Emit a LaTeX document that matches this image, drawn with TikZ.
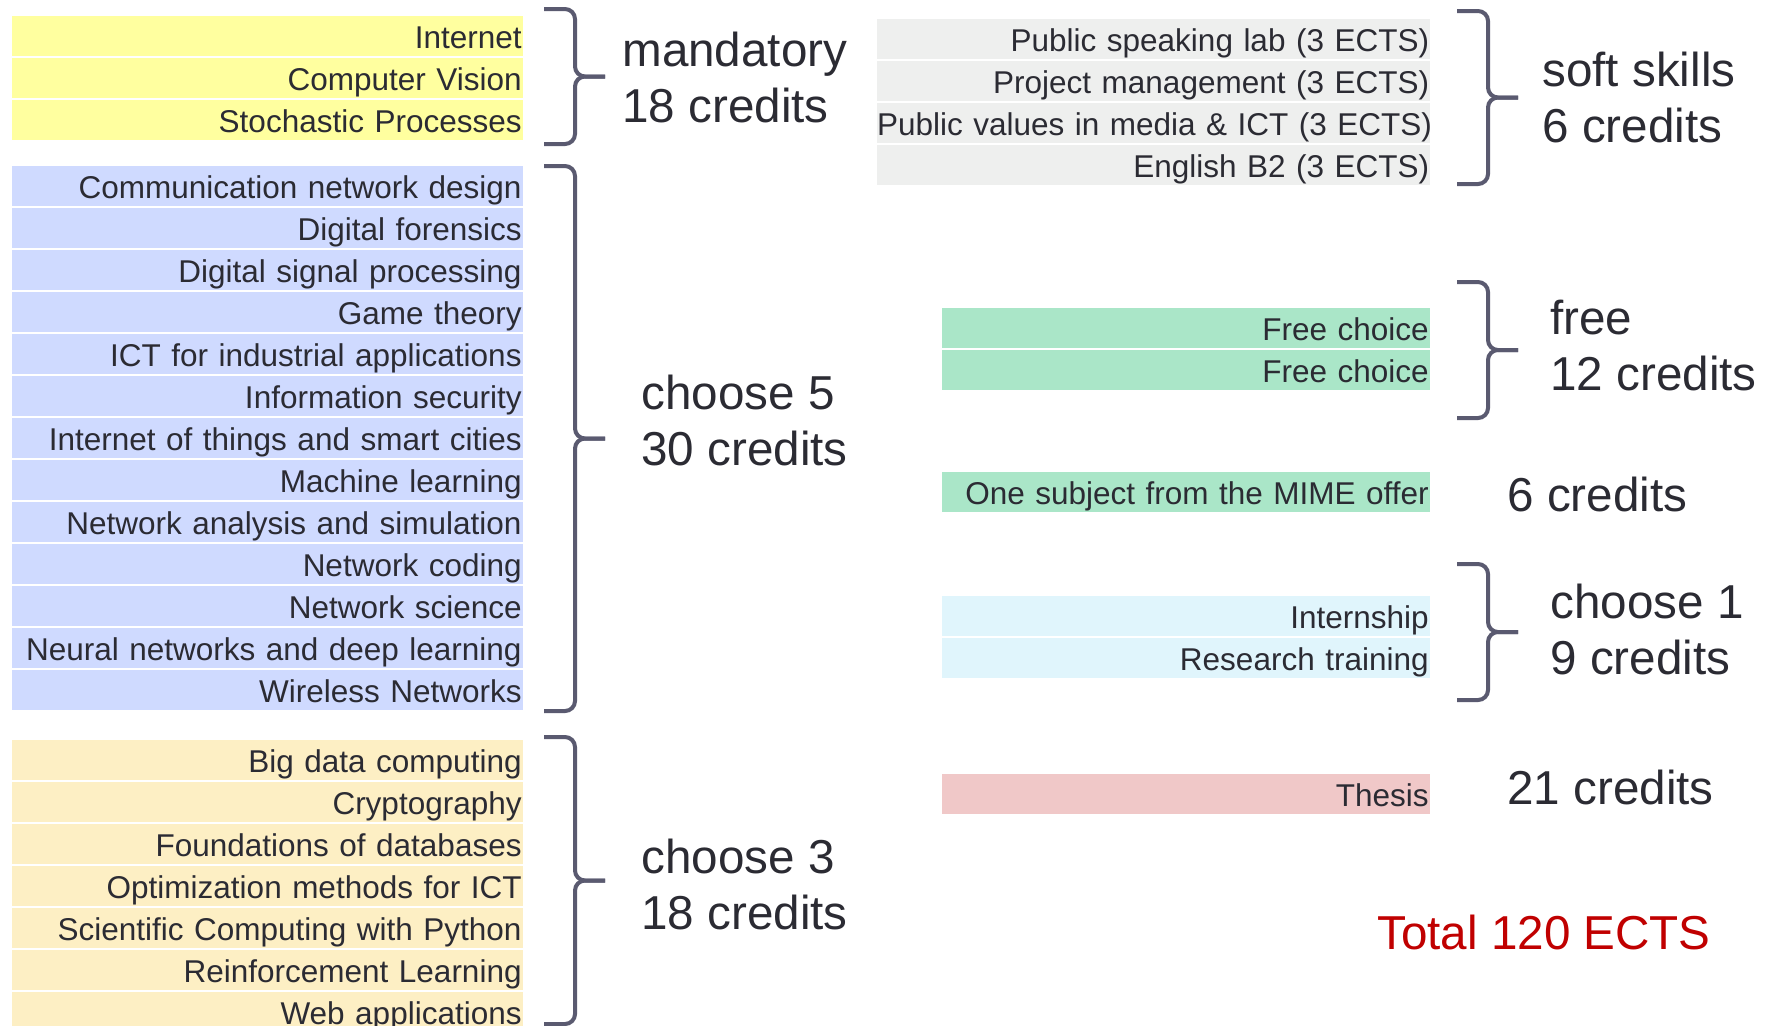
\documentclass[tikz,border=0pt]{standalone}
\usepackage{fontspec}
\setmainfont{Liberation Sans}
\usetikzlibrary{calc}

\definecolor{rowtext}{HTML}{2B2B33}
\definecolor{lbltext}{HTML}{2B2B33}
\definecolor{bracecol}{HTML}{5A5A70}
\definecolor{cyel}{HTML}{FFFF9F}
\definecolor{cblue}{HTML}{CFDAFF}
\definecolor{cora}{HTML}{FDEFC4}
\definecolor{cgray}{HTML}{EEEFEE}
\definecolor{cgreen}{HTML}{AAE6C8}
\definecolor{ccyan}{HTML}{E0F5FC}
\definecolor{cpink}{HTML}{F0C8C8}
\definecolor{totred}{HTML}{C00000}

\tikzset{
  course/.style={anchor=north east, minimum height=19.75pt, inner ysep=0pt,
    inner xsep=0.5pt, text width=#1, align=right, text=rowtext,
    text height=14pt, text depth=1.7pt,
    font=\fontsize{15.75}{19}\selectfont},
  course/.default=254.5pt,
  credit/.style={anchor=west, inner sep=0pt, align=left, text=lbltext,
    font=\fontsize{23.8}{28}\selectfont},
  bracestroke/.style={draw=bracecol, line width=2pt, rounded corners=5pt},
}

% group brace: #1 top, #2 bottom of the vertical stroke
\newcommand{\grpbrace}[2]{%
  \draw[bracestroke] ($(#1)+(-31,0)$) -- (#1) -- ($(#1)!0.5!(#2)$) -- ++(30,0);
  \draw[bracestroke] ($(#2)+(-31,0)$) -- (#2) -- ($(#1)!0.5!(#2)$) -- ++(30,0);
}

\begin{document}
\begin{tikzpicture}[x=0.5pt,y=-0.5pt]
\useasboundingbox (0,0) rectangle (1770,1025);
\clip (0,0) rectangle (1770,1025);

% left column: mandatory, electives
\foreach \t [count=\i] in {Internet,Computer Vision,Stochastic Processes}
  \node[course,fill=cyel] (man\i) at (523,{16+42*(\i-1)}) {\t};
\foreach \t [count=\i] in {Communication network design,Digital forensics,
    Digital signal processing,Game theory,ICT for industrial applications,
    Information security,Internet of things and smart cities,Machine learning,
    Network analysis and simulation,Network coding,Network science,
    Neural networks and deep learning,Wireless Networks}
  \node[course,fill=cblue] (elA\i) at (523,{166+42*(\i-1)}) {\t};
\foreach \t [count=\i] in {Big data computing,Cryptography,Foundations of databases,
    Optimization methods for ICT,Scientific Computing with Python,
    Reinforcement Learning,Web applications}
  \node[course,fill=cora] (elB\i) at (523,{740+42*(\i-1)}) {\t};

% right column
\foreach \t [count=\i] in {{Public speaking lab (3 ECTS)},{Project management (3 ECTS)},
    {Public values in media \& ICT (3 ECTS)},{English B2 (3 ECTS)}}
  \node[course=276pt,inner xsep=0.25pt,fill=cgray] (soft\i) at (1430,{19+42*(\i-1)}) {\mbox{\t}};
\node[course=242.7pt,fill=cgreen] (free1) at (1430,308) {Free choice};
\node[course=242.7pt,fill=cgreen] (free2) at (1430,350) {Free choice};
\node[course=242.7pt,fill=cgreen] (mime) at (1430,472) {One subject from the MIME offer};
\node[course=242.7pt,fill=ccyan] (intern) at (1430,596) {Internship};
\node[course=242.7pt,fill=ccyan] (research) at (1430,638) {Research training};
\node[course=242.7pt,fill=cpink] (thesis) at (1430,774) {Thesis};

% braces
\coordinate (manTop) at (575,9);     \coordinate (manBot) at (575,144);
\coordinate (elATop) at (575,166);   \coordinate (elABot) at (575,711);
\coordinate (elBTop) at (575,737);   \coordinate (elBBot) at (575,1024);
\coordinate (softTop) at (1488,11);  \coordinate (softBot) at (1488,184);
\coordinate (freeTop) at (1488,282); \coordinate (freeBot) at (1488,418);
\coordinate (oneTop) at (1488,564);  \coordinate (oneBot) at (1488,700);
\grpbrace{manTop}{manBot}
\grpbrace{elATop}{elABot}
\grpbrace{elBTop}{elBBot}
\grpbrace{softTop}{softBot}
\grpbrace{freeTop}{freeBot}
\grpbrace{oneTop}{oneBot}

% credit labels
\node[credit] (manLbl) at (622,77) {mandatory\\18 credits};
\node[credit] (elALbl) at (641,420) {choose 5\\30 credits};
\node[credit] (elBLbl) at (641,884) {choose 3\\18 credits};
\node[credit] (softLbl) at (1542,97) {soft skills\\6 credits};
\node[credit] (freeLbl) at (1550,345) {free\\12 credits};
\node[credit] (mimeLbl) at (1507,494) {6 credits};
\node[credit] (oneLbl) at (1550,629) {choose 1\\9 credits};
\node[credit] (thesisLbl) at (1507,787) {21 credits};
\node[credit,text=totred] (total) at (1377,932) {Total 120 ECTS};
\end{tikzpicture}
\end{document}
